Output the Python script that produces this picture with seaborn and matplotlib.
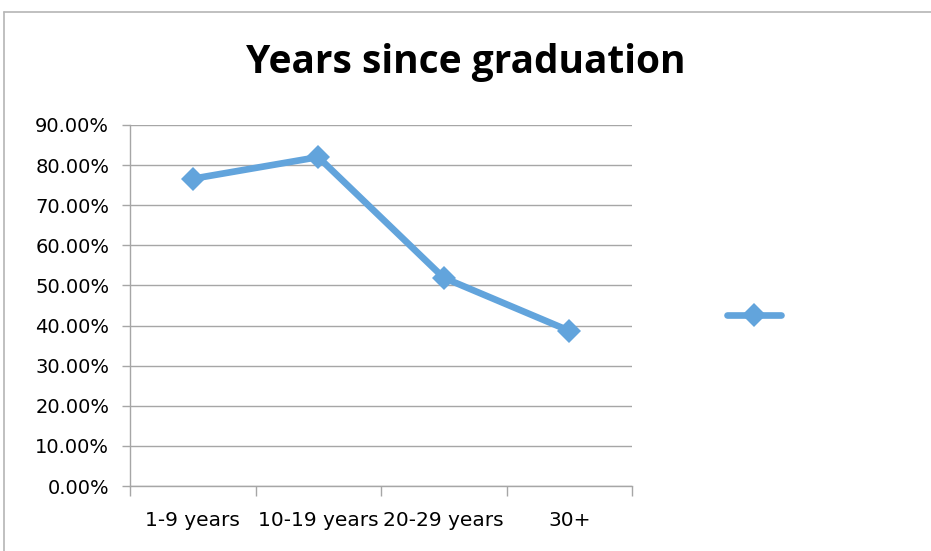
import matplotlib
import pandas as pd
import seaborn as sns

matplotlib.use("Agg")
import matplotlib.pyplot as plt
from matplotlib.lines import Line2D
from matplotlib.ticker import FixedLocator, PercentFormatter

categories = ["1-9 years", "10-19 years", "20-29 years", "30+"]
share = [0.766, 0.820, 0.519, 0.387]
y_ticks = [i / 10 for i in range(10)]

LINE_BLUE = "#62A4DC"
GRID_GREY = "#A6A6A6"

sns.set_theme(style="white")
plt.rcParams["font.family"] = ["DejaVu Sans"]

df = pd.DataFrame({"group": categories, "share": share})

fig = plt.figure(figsize=(9.31, 5.51), dpi=100)
ax = fig.add_axes([130 / 931, 1 - 486 / 551, 502 / 931, 361 / 551])

sns.lineplot(data=df, x="group", y="share", sort=False, ax=ax,
             color=LINE_BLUE, linewidth=4.8, marker="D", markersize=12.5,
             markeredgewidth=0)

ax.set_xlim(-0.5, len(categories) - 0.5)
ax.set_ylim(0, 0.9)
ax.set_yticks(y_ticks)
ax.yaxis.set_major_formatter(PercentFormatter(1.0, decimals=2))
ax.yaxis.grid(True, color=GRID_GREY, linewidth=1)
ax.set_axisbelow(True)

# category labels centred, tick marks on the boundaries
ax.set_xticks(range(len(categories)))
ax.set_xticklabels(categories)
ax.xaxis.set_minor_locator(FixedLocator([i - 0.5 for i in range(len(categories) + 1)]))
ax.tick_params(axis="x", which="major", length=0, pad=18, labelsize=14.5, colors="black")
ax.tick_params(axis="x", which="minor", length=7, width=1, color=GRID_GREY, bottom=True)
ax.tick_params(axis="y", length=6, width=1, color=GRID_GREY, left=True, labelsize=14,
               colors="black", pad=9)
for s in ["top", "right"]:
    ax.spines[s].set_visible(False)
for s in ["left", "bottom"]:
    ax.spines[s].set_color(GRID_GREY)
    ax.spines[s].set_linewidth(1)
ax.set_xlabel("")
ax.set_ylabel("")

fig.text(0.5, 1 - 63 / 551, "Years since graduation", ha="center", va="center",
         fontsize=28, fontweight="bold", color="black", family=["Open Sans", "DejaVu Sans"])

# legend with an unlabelled series
handle = Line2D([], [], color=LINE_BLUE, linewidth=4.8, marker="D", markersize=12.5,
                markeredgewidth=0, solid_capstyle="round")
fig.legend([handle], [""], loc="center", bbox_to_anchor=(754 / 931, 1 - 316 / 551),
           frameon=False, handlelength=3.0, handletextpad=0, fontsize=13)

# chart frame
fig.add_artist(Line2D([4 / 931, 1], [1 - 12 / 551] * 2, color="#B5B5B5", linewidth=1.2))
fig.add_artist(Line2D([4 / 931] * 2, [0, 1 - 12 / 551], color="#B5B5B5", linewidth=1.2))

fig.savefig("out.png", dpi=100)
